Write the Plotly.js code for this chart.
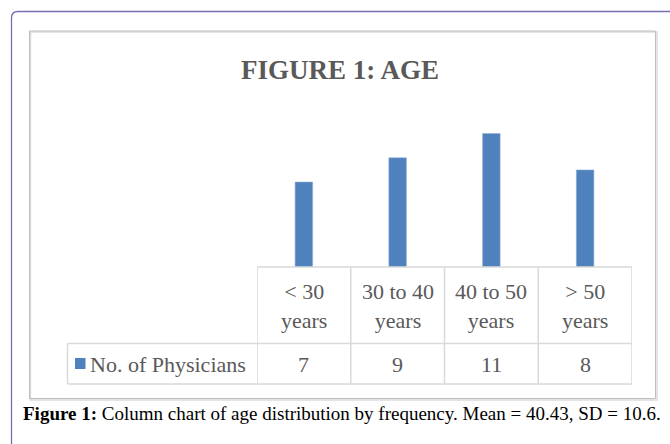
<!DOCTYPE html>
<html>
<head>
<meta charset="utf-8">
<script src="https://cdn.plot.ly/plotly-3.0.1.min.js"></script>
<style>
  html, body { margin: 0; padding: 0; background: #ffffff; }
  #chart { width: 670px; height: 444px; }
</style>
</head>
<body>
<div id="chart"></div>
<script>
// ---- Data ----
const categories = ["< 30 years", "30 to 40 years", "40 to 50 years", "> 50 years"];
const labelLine1 = ["< 30", "30 to 40", "40 to 50", "> 50"];
const labelLine2 = ["years", "years", "years", "years"];
const physicians = [7, 9, 11, 8];
const seriesName = "No. of Physicians";
const chartTitle = "FIGURE 1: AGE";
const captionBold = "Figure 1:";
const captionText = " Column chart of age distribution by frequency. Mean = 40.43, SD = 10.6.";

// ---- helpers: pixel -> paper ----
const W = 670, H = 444;
const px = x => x / W;
const py = y => 1 - y / H;
const esc = s => s.replace(/</g, "&lt;").replace(/>/g, "&gt;");

const BLUE = "#4F81BD";
const GRID = "#D9D9D9";
const TXT = "#595959";
const tableFont = { family: "Liberation Serif, Times New Roman, serif", size: 22, color: TXT };

// table geometry (pixels)
const tableTop = 267, rowMid = 343.5, tableBottom = 384, tableLeft = 67.5;

const trace = {
  type: "bar",
  x: categories,
  y: physicians,
  name: seriesName,
  width: 0.187,
  marker: { color: BLUE, line: { width: 0.6, color: "#8DAED6" } },
  hoverinfo: "skip",
  showlegend: false
};

const shapes = [];
// outer rounded border (extends off the page right and bottom)
shapes.push({
  type: "path", xref: "paper", yref: "paper", layer: "below",
  path: `M ${px(11.5)},${py(450)} L ${px(11.5)},${py(18)} Q ${px(11.5)},${py(11.5)} ${px(18)},${py(11.5)} L ${px(680)},${py(11.5)}`,
  line: { color: "#7770B0", width: 1.3 }
});
// inner box shadow + box
shapes.push({
  type: "rect", xref: "paper", yref: "paper", layer: "below",
  x0: px(30.5), x1: px(657), y0: py(400), y1: py(32),
  line: { color: "#DCDCDC", width: 1.5 }
});
shapes.push({
  type: "rect", xref: "paper", yref: "paper", layer: "below",
  x0: px(29.5), x1: px(655.5), y0: py(398.5), y1: py(31),
  line: { color: "#BDBDBD", width: 1 }
});
// table horizontal lines
shapes.push({ type: "line", xref: "x", yref: "paper", x0: -0.5, x1: categories.length - 0.5, y0: py(tableTop), y1: py(tableTop), line: { color: GRID, width: 1.5 } });
shapes.push({ type: "line", xref: "paper", yref: "paper", x0: px(tableLeft), x1: px(632), y0: py(rowMid), y1: py(rowMid), line: { color: GRID, width: 1.5 } });
shapes.push({ type: "line", xref: "paper", yref: "paper", x0: px(tableLeft), x1: px(632), y0: py(tableBottom), y1: py(tableBottom), line: { color: GRID, width: 1.5 } });
// table vertical lines
shapes.push({ type: "line", xref: "paper", yref: "paper", x0: px(tableLeft), x1: px(tableLeft), y0: py(rowMid), y1: py(tableBottom), line: { color: GRID, width: 1.5 } });
for (let i = 0; i <= categories.length; i++) {
  shapes.push({ type: "line", xref: "x", yref: "paper", x0: i - 0.5, x1: i - 0.5, y0: py(tableTop), y1: py(tableBottom), line: { color: GRID, width: 1.5 } });
}
// legend key square
shapes.push({
  type: "rect", xref: "paper", yref: "paper",
  x0: px(75), x1: px(85.5), y0: py(369), y1: py(358),
  fillcolor: BLUE, line: { width: 0 }
});

const annotations = [];
// title
annotations.push({
  xref: "paper", yref: "paper", x: px(340), y: py(70), xanchor: "center", yanchor: "middle",
  text: "<b>" + chartTitle + "</b>", showarrow: false,
  font: { family: "Liberation Serif, Times New Roman, serif", size: 27, color: "#595959" }
});
// header row labels + values
categories.forEach((c, i) => {
  annotations.push({
    xref: "x", yref: "paper", x: c, y: py(306), xanchor: "center", yanchor: "middle",
    text: esc(labelLine1[i]) + "<br>" + esc(labelLine2[i]), showarrow: false, font: tableFont
  });
  annotations.push({
    xref: "x", yref: "paper", x: c, y: py(364.5), xanchor: "center", yanchor: "middle",
    text: String(physicians[i]), showarrow: false, font: tableFont
  });
});
// series name in table
annotations.push({
  xref: "paper", yref: "paper", x: px(88), y: py(364), xanchor: "left", yanchor: "middle",
  text: seriesName, showarrow: false, font: tableFont
});
// caption
annotations.push({
  xref: "paper", yref: "paper", x: px(21), y: py(413.5), xanchor: "left", yanchor: "middle",
  text: "<b>" + captionBold + "</b>" + captionText, showarrow: false,
  font: { family: "Liberation Serif, Times New Roman, serif", size: 19, color: "#000000" }
});

const layout = {
  width: W, height: H,
  margin: { l: 0, r: 0, t: 0, b: 0, pad: 0 },
  paper_bgcolor: "#ffffff", plot_bgcolor: "rgba(0,0,0,0)",
  showlegend: false,
  xaxis: {
    domain: [px(257), px(632)], range: [-0.5, categories.length - 0.5],
    type: "category", categoryarray: categories, categoryorder: "array",
    showticklabels: false, showgrid: false, zeroline: false, showline: false, ticks: ""
  },
  yaxis: {
    domain: [py(267), py(85)], range: [0, 15],
    showticklabels: false, showgrid: false, zeroline: false, showline: false, ticks: ""
  },
  shapes: shapes,
  annotations: annotations
};

Plotly.newPlot("chart", [trace], layout, { staticPlot: true, displayModeBar: false });
</script>
</body>
</html>
